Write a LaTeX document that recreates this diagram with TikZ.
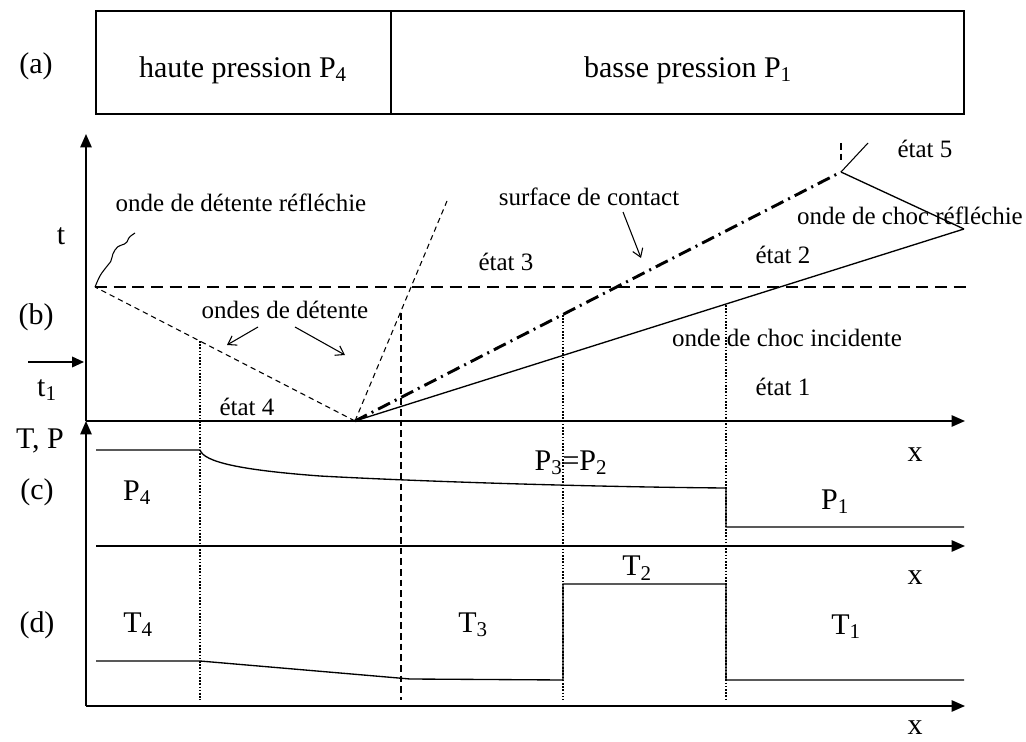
\documentclass[tikz,border=0pt]{standalone}
\usepackage{fontspec}
\setmainfont{Liberation Serif}
\usetikzlibrary{arrows.meta}
\begin{document}
\begin{tikzpicture}[x=0.75pt,y=-0.75pt,
  big/.style={font=\fontsize{22.5}{24}\selectfont, inner sep=0pt},
  small/.style={font=\fontsize{18.75}{20}\selectfont, inner sep=0pt},
  axis/.style={line width=1.2pt, -{Triangle[length=10pt,width=8.5pt]}},
  curve/.style={line width=1pt},
  fan/.style={line width=0.8pt, dash pattern=on 4pt off 3pt},
  levelline/.style={line width=1.2pt, dash pattern=on 9pt off 5pt},
  contact/.style={line width=2.2pt, dash pattern=on 10pt off 4pt on 1.5pt off 4pt},
  dotline/.style={line width=1.2pt, dash pattern=on 1.2pt off 1.2pt},
  dashv/.style={line width=1.5pt, dash pattern=on 5pt off 3pt},
  pointer/.style={line width=0.8pt, -{Straight Barb[length=6pt,width=8pt]}},
]
\useasboundingbox (0,0) rectangle (1026,742);

% (a) tube
\draw[line width=1pt] (96,11) rectangle (964,114);
\draw[line width=1pt] (391,11) -- (391,114);
\node[big] (la) at (36,66) {(a)};
\node[big] (hp) at (243,70) {haute pression P\textsubscript{4}};
\node[big] (bp) at (688,70) {basse pression P\textsubscript{1}};

% key coordinates
\coordinate (Ob) at (86,421);
\coordinate (tTop) at (86,134);
\coordinate (Bot) at (86,706);
\coordinate (O) at (355,421);
\coordinate (R) at (95,287);
\coordinate (H) at (447,201);
\coordinate (A) at (841,172);
\coordinate (S) at (964,229);

% (b) axes
\draw[axis] (Ob) -- (tTop);
\draw[axis] (Ob) -- (965,421);
\node[big] (tl) at (61,236) {t};
\node[big] (lb) at (36,317) {(b)};
\coordinate (t1a) at (28,362);
\coordinate (t1b) at (84,362);
\draw[line width=1.2pt, -{Triangle[length=9pt,width=8pt]}] (t1a) -- (t1b);
\node[big] (t1) at (47,390) {t\textsubscript{1}};
\node[big] (xb) at (915,455) {x};

% waves
\draw[levelline] (R) -- (966,287);
\draw[fan] (O) -- (R);
\draw[fan] (O) -- (H);
\draw[contact] (O) -- (A);
\draw[line width=1pt] (O) -- (S);
\draw[line width=1pt] (A) -- (S);
\draw[line width=1pt, dash pattern=on 5pt off 3pt] (841,143) -- (841,162);
\coordinate (A5) at (868,143);
\draw[line width=0.8pt] (A) -- (A5);
\draw[line width=0.8pt] (R) .. controls (100,275) .. (108,265)
  .. controls (113,261) and (111,255) .. (115,250)
  .. controls (118,244) and (124,246) .. (127,242)
  .. controls (129,236) and (131,236) .. (135,233);

% labels in (b)
\node[small] (odr) at (241,203) {onde de détente réfléchie};
\node[small] (sc) at (589,197) {surface de contact};
\coordinate (scT) at (641,258);
\draw[pointer] (623,212) -- (scT);
\node[small] (e3) at (506,262) {état 3};
\node[small] (e2) at (783,255) {état 2};
\node[small] (ocr) at (910,216) {onde de choc réfléchie};
\node[small] (e5) at (925,149) {état 5};
\node[small] (odd) at (285,310) {ondes de détente};
\coordinate (od1) at (227,345);
\coordinate (od2) at (345,355);
\draw[pointer] (258,327) -- (od1);
\draw[pointer] (295,327) -- (od2);
\node[small] (oci) at (787,338) {onde de choc incidente};
\node[small] (e1) at (783,387) {état 1};
\node[small] (e4) at (247,407) {état 4};

% vertical guide lines
\draw[dotline] (200,341) -- (200,700);
\draw[dashv] (401,313) -- (401,700);
\draw[dotline] (563,315) -- (563,700);
\draw[dotline] (726,305) -- (726,700);

% (c) pressure
\draw[axis] (Bot) -- (Ob);
\node[big] (tp) at (40,441) {T, P};
\node[big] (lc) at (37,492) {(c)};
\draw[curve] (96,450) -- (200,450)
  .. controls (204,462) and (240,470) .. (320,476)
  .. controls (430,482) and (600,487) .. (726,488)
  -- (726,527) -- (964,527);
\node[big] (p4) at (137,493) {P\textsubscript{4}};
\node[big] (p32) at (571,463) {P\textsubscript{3}=P\textsubscript{2}};
\node[big] (p1) at (835,502) {P\textsubscript{1}};
\draw[axis] (96,546) -- (965,546);
\node[big] (xc) at (915,578) {x};

% (d) temperature
\node[big] (ld) at (37,625) {(d)};
\draw[curve] (96,661) -- (200,661) -- (410,679) -- (563,680)
  -- (563,584) -- (726,584) -- (726,680) -- (964,680);
\node[big] (t4) at (138,625) {T\textsubscript{4}};
\node[big] (t3) at (473,625) {T\textsubscript{3}};
\node[big] (t2) at (637,568) {T\textsubscript{2}};
\node[big] (tt1) at (846,627) {T\textsubscript{1}};
\draw[axis] (Bot) -- (965,706);
\node[big] (xd) at (915,728) {x};
\end{tikzpicture}
\end{document}
